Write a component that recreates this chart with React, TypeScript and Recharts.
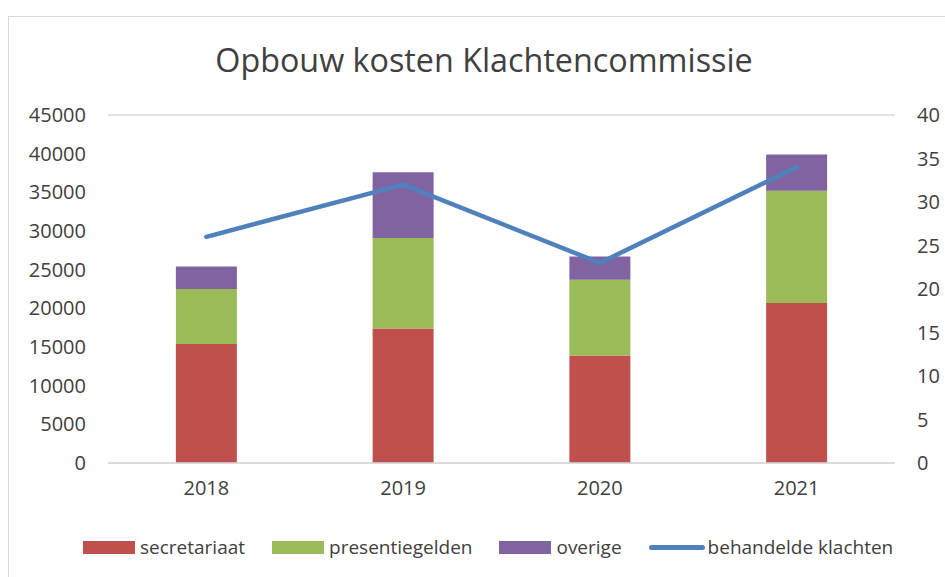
import { ComposedChart, Bar, Line, XAxis, YAxis, CartesianGrid } from 'recharts'

const years = ['2018', '2019', '2020', '2021']
const secretariaat = [15400, 17400, 13900, 20700]
const presentiegelden = [7100, 11700, 9800, 14500]
const overige = [2900, 8500, 3000, 4700]
const behandeldeKlachten = [26, 32, 23, 34]

const costTicks = [0, 5000, 10000, 15000, 20000, 25000, 30000, 35000, 40000, 45000]
const countTicks = [0, 5, 10, 15, 20, 25, 30, 35, 40]

const legendItems = [
  { label: 'secretariaat', color: '#C0504D', kind: 'bar' },
  { label: 'presentiegelden', color: '#9BBB59', kind: 'bar' },
  { label: 'overige', color: '#8064A2', kind: 'bar' },
  { label: 'behandelde klachten', color: '#4F81BD', kind: 'line' },
]

const data = years.map((year, i) => ({
  year,
  secretariaat: secretariaat[i],
  presentiegelden: presentiegelden[i],
  overige: overige[i],
  klachten: behandeldeKlachten[i],
}))

const FONT = '"Open Sans", sans-serif'
const TEXT = '#404040'
const tick = { fill: TEXT, fontSize: 20, fontFamily: FONT }

const App = () => {
  return (
    <div
      style={{
        position: 'fixed',
        left: 0,
        top: 0,
        width: 945,
        height: 577,
        overflow: 'hidden',
        background: '#fff',
        fontFamily: FONT,
      }}
    >
      <div
        style={{
          position: 'absolute',
          left: 8,
          top: 16,
          width: 1000,
          height: 1000,
          border: '1.5px solid #d9d9d9',
        }}
      />
      <div
        style={{
          position: 'absolute',
          left: 0,
          width: 968,
          top: 37,
          textAlign: 'center',
          fontSize: 32.3,
          color: TEXT,
        }}
      >
        Opbouw kosten Klachtencommissie
      </div>

      <div style={{ position: 'absolute', left: 0, top: 0 }}>
        <ComposedChart
          width={945}
          height={577}
          data={data}
          margin={{ top: 115, right: 10, bottom: 74, left: 18 }}
          barCategoryGap="34.5%"
        >
          <CartesianGrid vertical={false} stroke="#d9d9d9" strokeWidth={1.5} />
          <XAxis
            dataKey="year"
            height={40}
            tick={tick}
            tickLine={false}
            tickSize={0}
            tickMargin={18}
            axisLine={{ stroke: '#d9d9d9', strokeWidth: 1.5 }}
          />
          <YAxis
            yAxisId="cost"
            width={90}
            domain={[0, 45000]}
            ticks={costTicks}
            tick={tick}
            tickLine={false}
            tickSize={0}
            tickMargin={22}
            axisLine={false}
          />
          <YAxis
            yAxisId="count"
            orientation="right"
            width={40}
            domain={[0, 40]}
            ticks={countTicks}
            tick={tick}
            tickLine={false}
            tickSize={0}
            tickMargin={22}
            axisLine={false}
          />
          <Bar yAxisId="cost" dataKey="secretariaat" stackId="k" fill="#C0504D" isAnimationActive={false} />
          <Bar yAxisId="cost" dataKey="presentiegelden" stackId="k" fill="#9BBB59" isAnimationActive={false} />
          <Bar yAxisId="cost" dataKey="overige" stackId="k" fill="#8064A2" isAnimationActive={false} />
          <Line
            yAxisId="count"
            dataKey="klachten"
            stroke="#4F81BD"
            strokeWidth={4.5}
            strokeLinecap="round"
            strokeLinejoin="round"
            dot={false}
            isAnimationActive={false}
          />
        </ComposedChart>
      </div>

      <div
        style={{
          position: 'absolute',
          left: 83,
          top: 534,
          display: 'flex',
          alignItems: 'center',
          gap: 27,
          fontSize: 19,
          color: TEXT,
        }}
      >
        {legendItems.map((item) => (
          <div key={item.label} style={{ display: 'flex', alignItems: 'center' }}>
            {item.kind === 'bar' ? (
              <span style={{ width: 52, height: 13, background: item.color, marginRight: 5 }} />
            ) : (
              <span
                style={{ width: 56, height: 5, borderRadius: 3, background: item.color, marginRight: 3 }}
              />
            )}
            <span>{item.label}</span>
          </div>
        ))}
      </div>
    </div>
  )
}

export default App
